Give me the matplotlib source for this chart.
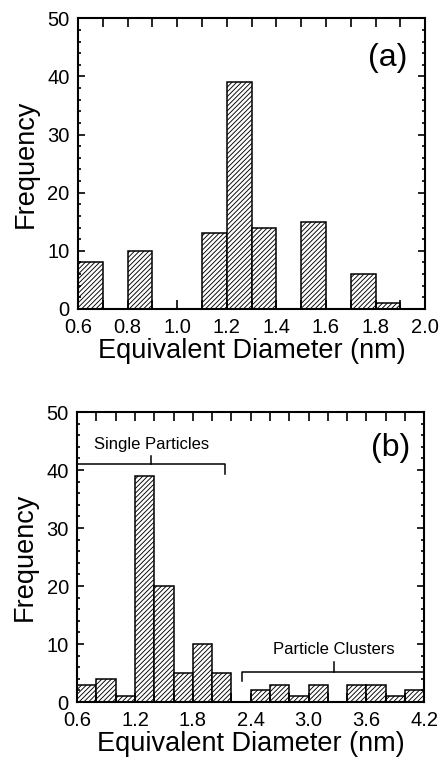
import matplotlib
matplotlib.use("Agg")
import matplotlib.pyplot as plt
import numpy as np
from matplotlib.ticker import MultipleLocator

plt.rcParams['font.family'] = ['Liberation Sans', 'DejaVu Sans']
plt.rcParams['hatch.linewidth'] = 0.65

# Panel (a): bins of 0.1 nm
a_left_edges = [0.6, 0.7, 0.8, 0.9, 1.0, 1.1, 1.2, 1.3, 1.4, 1.5, 1.6, 1.7, 1.8, 1.9]
a_counts = [8, 0, 10, 0, 0, 13, 39, 14, 0, 15, 0, 6, 1, 0]
a_width = 0.1
a_xticks = [0.6, 0.8, 1.0, 1.2, 1.4, 1.6, 1.8, 2.0]
a_xticklabels = ["0.6", "0.8", "1.0", "1.2", "1.4", "1.6", "1.8", "2.0"]

# Panel (b): bins of 0.2 nm
b_left_edges = [0.6, 0.8, 1.0, 1.2, 1.4, 1.6, 1.8, 2.0, 2.2, 2.4, 2.6, 2.8, 3.0, 3.2, 3.4, 3.6, 3.8, 4.0]
b_counts = [3, 4, 1, 39, 20, 5, 10, 5, 0, 2, 3, 1, 3, 0, 3, 3, 1, 2]
b_width = 0.2
b_xticks = [0.6, 1.2, 1.8, 2.4, 3.0, 3.6, 4.2]
b_xticklabels = ["0.6", "1.2", "1.8", "2.4", "3.0", "3.6", "4.2"]

yticks = [0, 10, 20, 30, 40, 50]
ytick_labels = ["0", "10", "20", "30", "40", "50"]

fig = plt.figure(figsize=(4.41, 7.62), dpi=100)
ax1 = fig.add_axes([0.177, 0.5945, 0.787, 0.3815])
ax2 = fig.add_axes([0.175, 0.0787, 0.787, 0.3806])


def style(ax, xlim, xticks, xlabels, xminor):
    ax.set_xlim(*xlim)
    ax.set_ylim(0, 50)
    ax.set_xticks(xticks)
    ax.set_xticklabels(xlabels)
    ax.set_yticks(yticks)
    ax.set_yticklabels(ytick_labels)
    ax.xaxis.set_minor_locator(MultipleLocator(xminor))
    ax.yaxis.set_minor_locator(MultipleLocator(2))
    ax.tick_params(which='both', direction='in', top=True, right=True,
                   labelsize=14.5, width=1.2, color='black')
    ax.tick_params(axis='x', which='both', length=6.5, pad=6.5)
    ax.tick_params(axis='y', which='major', length=5, pad=6)
    ax.tick_params(axis='y', which='minor', length=2.5)
    for s in ax.spines.values():
        s.set_linewidth(1.5)
    ax.set_xlabel("Equivalent Diameter (nm)", fontsize=19.5, labelpad=1)
    ax.set_ylabel("Frequency", fontsize=19.5, labelpad=6)


ax1.bar(a_left_edges, a_counts, width=a_width, align='edge',
        color='white', edgecolor='black', linewidth=1.1, hatch='///////')
style(ax1, (0.6, 2.0), a_xticks, a_xticklabels, 0.1)
ax1.text(1.85, 43.2, "(a)", fontsize=23, ha='center', va='center')

ax2.bar(b_left_edges, b_counts, width=b_width, align='edge',
        color='white', edgecolor='black', linewidth=1.1, hatch='///////')
style(ax2, (0.6, 4.2), b_xticks, b_xticklabels, 0.2)
ax2.text(3.85, 43.8, "(b)", fontsize=23, ha='center', va='center')

# Brackets
ax2.plot([0.6, 2.13, 2.13], [41, 41, 39.3], color='black', lw=1.1, clip_on=False)
ax2.plot([1.37, 1.37], [41, 42.5], color='black', lw=1.1)
ax2.text(1.37, 44.4, "Single Particles", fontsize=12, ha='center', va='center')

ax2.plot([2.31, 2.31, 4.2], [3.7, 5.2, 5.2], color='black', lw=1.1, clip_on=False)
ax2.plot([3.26, 3.26], [5.2, 6.9], color='black', lw=1.1)
ax2.text(3.26, 9.1, "Particle Clusters", fontsize=12, ha='center', va='center')

fig.savefig("out.png", dpi=100)
